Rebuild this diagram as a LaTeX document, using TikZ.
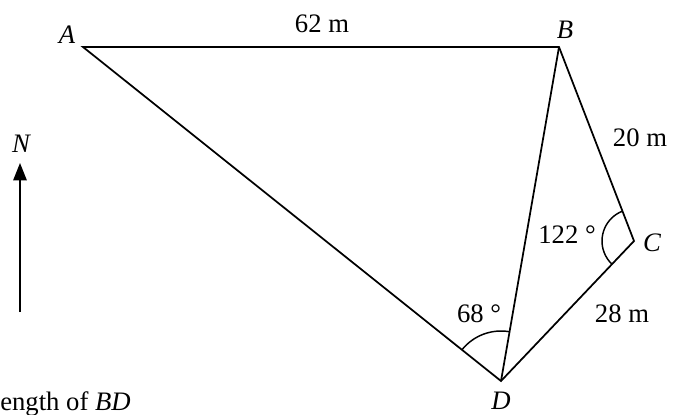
\documentclass[tikz,border=0pt]{standalone}
\usepackage{fontspec}
\setmainfont{Liberation Serif}
\usepackage{tikz}
\usetikzlibrary{arrows.meta,angles,calc}
\newcommand{\labelsize}{\fontsize{20}{23}\selectfont}
\tikzset{
  side/.style={line width=1.3pt, line join=miter},
  vertexlabel/.style={font=\labelsize\itshape, inner sep=1pt},
  lenlabel/.style={font=\labelsize, inner sep=1pt},
  anglearc/.style={draw, line width=1.1pt},
  northarrow/.style={-{Triangle[length=13pt,width=10pt]}, line width=1.2pt}
}

\begin{document}
\begin{tikzpicture}[
  x=0.75pt, y=-0.75pt
]
\useasboundingbox (0,0) rectangle (673,414);

% vertices
\coordinate (A) at (83,47);
\coordinate (B) at (559,47);
\coordinate (C) at (634,241);
\coordinate (D) at (501,381);

% sides
\draw[side] (A) -- (B) -- (C) -- (D) -- cycle;
\draw[side] (B) -- (D);

% angles
\pic[anglearc, angle radius=37.5pt] {angle=B--D--A};
\pic[anglearc, angle radius=24pt] {angle=B--C--D};

% labels
\node[vertexlabel] (labA) at (67,35) {A};
\node[vertexlabel] (labB) at (565,30) {B};
\node[vertexlabel] (labC) at (652,243) {C};
\node[vertexlabel] (labD) at (501,401) {D};
\node[lenlabel] (lenAB) at (322,24) {62 m};
\node[lenlabel] (lenBC) at (640,138) {20 m};
\node[lenlabel] (lenCD) at (622,314) {28 m};
\node[lenlabel] (angC) at (567,235) {122 °};
\node[lenlabel] (angD) at (479,314) {68 °};

% north
\coordinate (Nfoot) at (20,312);
\coordinate (Ntip) at (20,163);
\draw[northarrow] (Nfoot) -- (Ntip);
\node[vertexlabel] (labN) at (21,144) {N};

% question text at the lower edge
\node[lenlabel, anchor=base west, inner sep=0pt] (question) at (0,410) {ength of \textit{BD}};
\end{tikzpicture}
\end{document}
